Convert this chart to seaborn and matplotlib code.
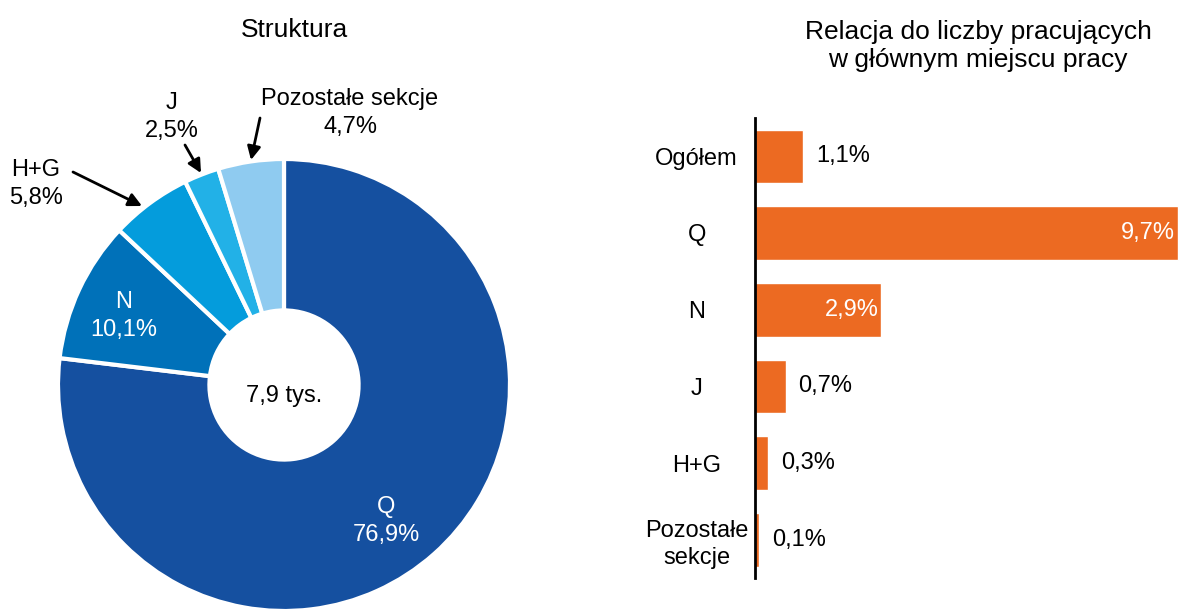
import numpy as np
import pandas as pd
import seaborn as sns
import matplotlib.pyplot as plt

# Data
pie_labels = ['Q', 'N', 'H+G', 'J', 'Pozostałe sekcje']
pie_values = [76.9, 10.1, 5.8, 2.5, 4.7]
pie_colors = ['#1550a0', '#0071b9', '#049cdc', '#22b1e7', '#8fcbf0']
total_label = '7,9 tys.'

bar_labels = ['Ogółem', 'Q', 'N', 'J', 'H+G', 'Pozostałe\nsekcje']
bar_values = [1.1, 9.7, 2.9, 0.7, 0.3, 0.1]
bar_color = '#ec6a22'

sns.set_theme(style='white')
plt.rcParams['font.family'] = ['Liberation Sans', 'DejaVu Sans']
plt.rcParams['text.color'] = 'black'
plt.rcParams['ytick.color'] = 'black'
FS = 17
TFS = 19
LS = 1.3

fig = plt.figure(figsize=(11.82, 6.11), dpi=100)

# --- pie (left) ---
# axes covers left half; limits chosen so 1 data unit = 226 px
ax1 = fig.add_axes([0, 0, 0.5, 1])
wedges, _ = ax1.pie(pie_values, colors=pie_colors, startangle=90, counterclock=False,
                    radius=1, wedgeprops=dict(width=0.67, edgecolor='white', linewidth=3))
r = 226
ax1.set_xlim(-284 / r, (591 - 284) / r)
ax1.set_ylim(-226 / r, 385 / r)
ax1.set_aspect('auto')
ax1.axis('off')

def px(x, y):
    # pixel coords of reference -> data coords of pie axes
    return (x - 284) / r, (385 - y) / r

ax1.text(*px(294, 30), 'Struktura', ha='center', va='center', fontsize=TFS)
ax1.text(*px(284, 396), total_label, ha='center', va='center', fontsize=FS)
ax1.text(*px(124, 316), 'N\n10,1%', ha='center', va='center', fontsize=FS,
         color='white', linespacing=LS)
ax1.text(*px(386, 521), 'Q\n76,9%', ha='center', va='center', fontsize=FS,
         color='white', linespacing=LS)

ax1.text(*px(36, 184), 'H+G\n5,8%', ha='center', va='center', fontsize=FS, linespacing=LS)
ax1.text(*px(172, 117), 'J\n2,5%', ha='center', va='center', fontsize=FS, linespacing=LS)
ax1.text(*px(350, 113), 'Pozostałe sekcje\n4,7%', ha='center', va='center', fontsize=FS,
         linespacing=LS)

arrow = dict(arrowstyle='-|>', color='black', lw=2, mutation_scale=20, shrinkA=0, shrinkB=0)
ax1.annotate('', xy=px(142, 206), xytext=px(73, 172), arrowprops=arrow)
ax1.annotate('', xy=px(201, 173), xytext=px(185, 145), arrowprops=arrow)
ax1.annotate('', xy=px(251, 160), xytext=px(260, 118), arrowprops=arrow)

# --- bars (right) ---
ax2 = fig.add_axes([755 / 1182, 33 / 611, 427 / 1182, 460 / 611])
df = pd.DataFrame({'kat': bar_labels, 'val': bar_values})
sns.barplot(data=df, x='val', y='kat', color=bar_color, width=0.7, saturation=1, ax=ax2)
ax2.set_xlim(0, 9.8)
ax2.set_ylim(5.5, -0.5)
ax2.set_xlabel('')
ax2.set_ylabel('')
ax2.set_xticks([])
sns.despine(ax=ax2, top=True, right=True, bottom=True, left=False)
ax2.spines['left'].set_color('black')
ax2.spines['left'].set_linewidth(2)
ax2.tick_params(axis='y', length=0, pad=42, labelsize=FS)
for t in ax2.get_yticklabels():
    t.set_ha('center')
    t.set_multialignment('center')
    t.set_linespacing(LS)

for i, v in enumerate(bar_values):
    s = f'{v:.1f}'.replace('.', ',') + '%'
    if v > 2:
        ax2.text(v - 0.06, i, s, ha='right', va='center', fontsize=FS, color='white')
    else:
        ax2.text(v + 0.3, i, s, ha='left', va='center', fontsize=FS, color='black')

fig.text(978 / 1182, 1 - 46 / 611, 'Relacja do liczby pracujących\nw głównym miejscu pracy',
         ha='center', va='center', fontsize=TFS, linespacing=1.25)

fig.savefig('out.png', dpi=100)
